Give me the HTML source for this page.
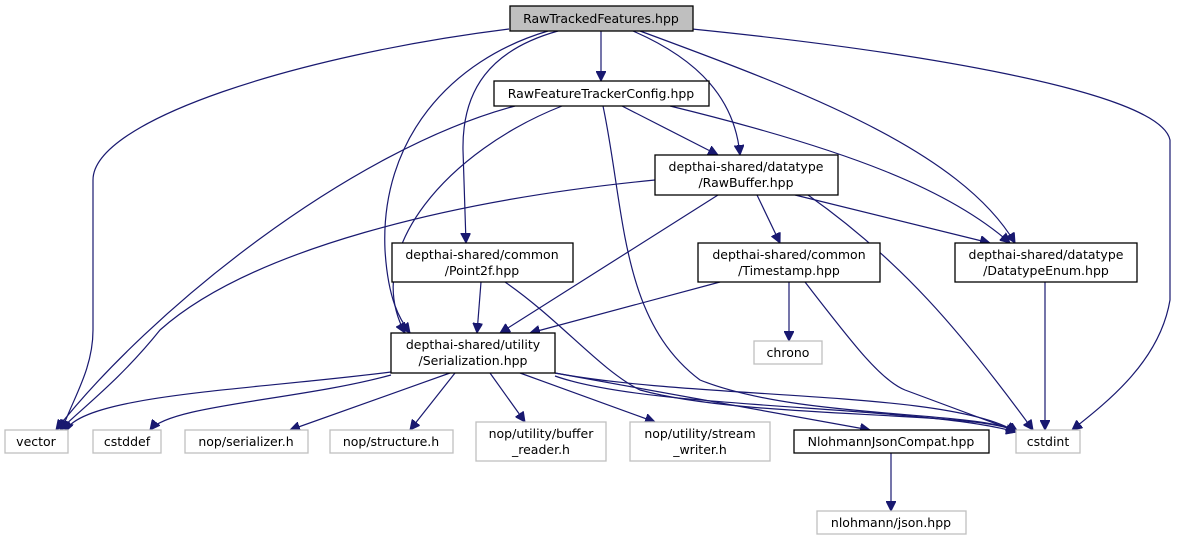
<!DOCTYPE html>
<html><head><meta charset="utf-8"><style>
html,body{margin:0;padding:0;background:#fff;}
svg{display:block;}
text{font-family:"DejaVu Sans","Liberation Sans",sans-serif;font-size:12.5px;fill:#000;text-anchor:middle;}
.e{fill:none;stroke:#191970;stroke-width:1.2;}
.b{fill:#fff;stroke:#000;stroke-width:1.3;}
.g{fill:#fff;stroke:#bfbfbf;stroke-width:1.3;}
</style></head><body>
<svg width="1181" height="544" viewBox="0 0 1181 544" xmlns="http://www.w3.org/2000/svg">
<defs><marker id="a" viewBox="0 0 10 10" refX="10" refY="5" markerWidth="10" markerHeight="10" markerUnits="userSpaceOnUse" orient="auto"><path d="M0,0L10,5L0,10z" fill="#191970" stroke="#191970"/></marker></defs>
<g marker-end="url(#a)">
<path class="e" d="M509,29 C300,55 93,120 93,180 L93,330 C93,370 72,400 62,430"/>
<path class="e" d="M601,31 L601,81"/>
<path class="e" d="M548,31 C450,60 380,140 385,250 C388,300 400,320 410,333"/>
<path class="e" d="M558,31 C490,50 462,90 463,150 L466,243"/>
<path class="e" d="M633,31 C700,60 735,100 740,155"/>
<path class="e" d="M640,31 C800,90 960,150 1015,243"/>
<path class="e" d="M692,29 C900,50 1160,90 1170,140 L1170,300 C1160,360 1110,400 1072,430"/>
<path class="e" d="M515,106 C350,150 150,310 56,430"/>
<path class="e" d="M562,106 C450,150 360,250 405,333"/>
<path class="e" d="M603,106 C625,210 620,320 700,380 C800,420 980,410 1018,432"/>
<path class="e" d="M622,106 L718,155"/>
<path class="e" d="M670,106 C850,150 950,190 1010,243"/>
<path class="e" d="M655,180 C450,200 250,250 160,330 C120,380 80,410 60,430"/>
<path class="e" d="M718,195 L500,333"/>
<path class="e" d="M757,195 L780,243"/>
<path class="e" d="M795,195 L990,243"/>
<path class="e" d="M808,195 C900,260 960,330 1033,430"/>
<path class="e" d="M481,282 L477,333"/>
<path class="e" d="M505,282 C560,320 600,370 640,390 C750,420 980,410 1018,432"/>
<path class="e" d="M720,282 L530,333"/>
<path class="e" d="M789,282 L789,341"/>
<path class="e" d="M805,282 C850,340 880,380 905,390 L1018,432"/>
<path class="e" d="M1045,282 L1045,430"/>
<path class="e" d="M391,372 C250,390 80,395 65,432"/>
<path class="e" d="M391,375 C300,400 170,405 150,430"/>
<path class="e" d="M450,373 L290,430"/>
<path class="e" d="M455,373 L410,430"/>
<path class="e" d="M490,373 L525,422"/>
<path class="e" d="M520,373 L655,422"/>
<path class="e" d="M555,373 L870,430"/>
<path class="e" d="M555,373 C700,400 950,390 1016,432"/>
<path class="e" d="M555,376 C650,410 920,405 1016,432"/>
<path class="e" d="M891,453 L891,511"/>
</g>
<rect x="510" y="6" width="183" height="25" fill="#bfbfbf" stroke="#000" stroke-width="1.3"/>
<text x="601" y="23">RawTrackedFeatures.hpp</text>
<rect class="b" x="494" y="81" width="215" height="25"/><text x="601" y="98">RawFeatureTrackerConfig.hpp</text>
<rect class="b" x="655" y="155" width="183" height="40"/><text x="746" y="171">depthai-shared/datatype</text><text x="746" y="187">/RawBuffer.hpp</text>
<rect class="b" x="392" y="243" width="181" height="39"/><text x="482" y="259">depthai-shared/common</text><text x="482" y="275">/Point2f.hpp</text>
<rect class="b" x="698" y="243" width="182" height="39"/><text x="789" y="259">depthai-shared/common</text><text x="789" y="275">/Timestamp.hpp</text>
<rect class="b" x="955" y="243" width="182" height="39"/><text x="1046" y="259">depthai-shared/datatype</text><text x="1046" y="275">/DatatypeEnum.hpp</text>
<rect class="b" x="391" y="333" width="164" height="40"/><text x="473" y="349">depthai-shared/utility</text><text x="473" y="365">/Serialization.hpp</text>
<rect class="g" x="754" y="341" width="68" height="23"/><text x="788" y="357">chrono</text>
<rect class="g" x="5" y="430" width="63" height="23"/><text x="36" y="446">vector</text>
<rect class="g" x="93" y="430" width="68" height="23"/><text x="127" y="446">cstddef</text>
<rect class="g" x="185" y="430" width="123" height="23"/><text x="246" y="446">nop/serializer.h</text>
<rect class="g" x="330" y="430" width="123" height="23"/><text x="391" y="446">nop/structure.h</text>
<rect class="g" x="476" y="422" width="130" height="39"/><text x="541" y="438">nop/utility/buffer</text><text x="541" y="454">_reader.h</text>
<rect class="g" x="630" y="422" width="140" height="39"/><text x="700" y="438">nop/utility/stream</text><text x="700" y="454">_writer.h</text>
<rect class="b" x="794" y="430" width="195" height="23"/><text x="891" y="446">NlohmannJsonCompat.hpp</text>
<rect class="g" x="1016" y="430" width="64" height="23"/><text x="1048" y="446">cstdint</text>
<rect class="g" x="817" y="511" width="149" height="23"/><text x="891" y="527">nlohmann/json.hpp</text>
</svg>
</body></html>
